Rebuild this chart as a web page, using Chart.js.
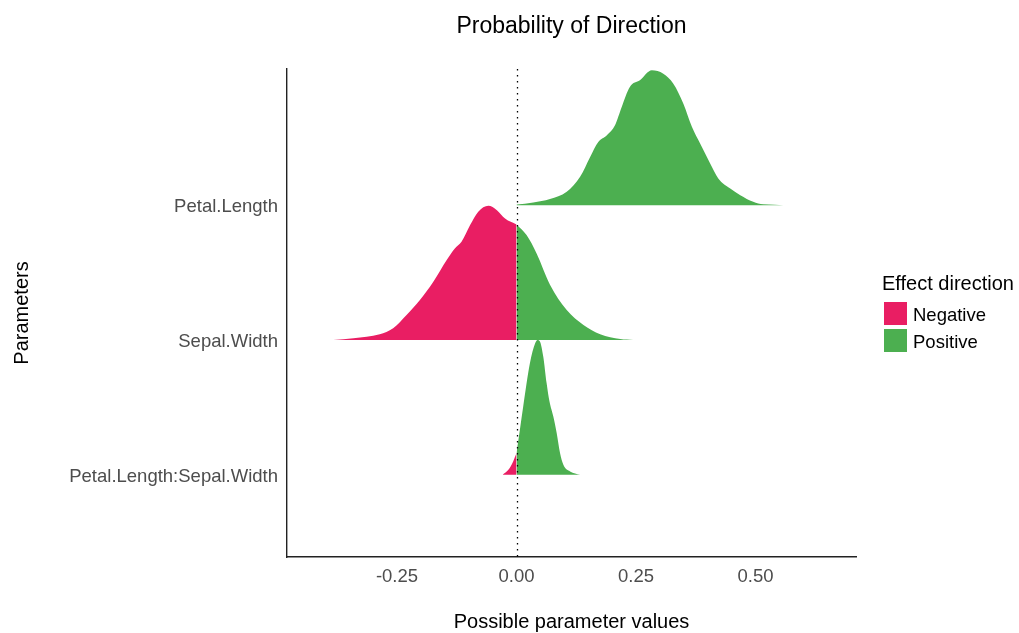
<!DOCTYPE html>
<html><head><meta charset="utf-8">
<script src="https://cdn.jsdelivr.net/npm/chart.js@4.4.0/dist/chart.umd.min.js"></script>
<style>html,body{margin:0;padding:0;background:#fff;} canvas{display:block;}</style>
</head><body>
<canvas id="c" width="1019" height="633"></canvas>
<script>
// ---- data ----
const parameters = ['Petal.Length', 'Sepal.Width', 'Petal.Length:Sepal.Width'];
const parameterRows = [3, 2, 1];
const xTicks = [-0.25, 0, 0.25, 0.5];
const directions = ['Negative', 'Positive'];
const directionColors = ['#E91E63', '#4CAF50'];

const petalLengthX = [0.000, 0.035, 0.070, 0.105, 0.133, 0.154, 0.171, 0.189, 0.206, 0.220, 0.237, 0.258, 0.283, 0.307, 0.328, 0.349, 0.367, 0.384, 0.405, 0.422, 0.447, 0.468, 0.495, 0.516, 0.540, 0.558];
const petalLengthDensity = [0.004, 0.020, 0.045, 0.099, 0.210, 0.358, 0.469, 0.519, 0.593, 0.728, 0.877, 0.926, 1.000, 0.975, 0.901, 0.753, 0.580, 0.457, 0.309, 0.198, 0.123, 0.074, 0.025, 0.006, 0.003, 0];

const sepalWidthX = [-0.383, -0.341, -0.286, -0.258, -0.230, -0.202, -0.174, -0.146, -0.129, -0.115, -0.097, -0.080, -0.059, -0.041, -0.024, 0.000, 0.021, 0.042, 0.070, 0.105, 0.140, 0.175, 0.217, 0.244];
const sepalWidthDensity = [0, 0.013, 0.042, 0.087, 0.185, 0.296, 0.432, 0.593, 0.679, 0.728, 0.852, 0.951, 0.995, 0.963, 0.901, 0.857, 0.778, 0.642, 0.410, 0.222, 0.111, 0.042, 0.007, 0];

const interactionX = [-0.029, -0.017, -0.007, 0.000, 0.007, 0.014, 0.028, 0.039, 0.044, 0.049, 0.056, 0.063, 0.069, 0.077, 0.084, 0.091, 0.098, 0.112, 0.133];
const interactionDensity = [0, 0.037, 0.099, 0.161, 0.333, 0.506, 0.827, 0.975, 1.000, 0.988, 0.876, 0.679, 0.543, 0.432, 0.309, 0.161, 0.074, 0.025, 0];

const seriesX = [petalLengthX, sepalWidthX, interactionX];
const seriesDensity = [petalLengthDensity, sepalWidthDensity, interactionDensity];

// ---- build datasets ----
const datasets = [];
parameters.forEach((name, i) => {
  const row = parameterRows[i];
  const xs = seriesX[i], ds = seriesDensity[i];
  const neg = [], pos = [];
  xs.forEach((x, k) => {
    const pt = {x: x, y: row + ds[k]};
    if (x <= 0) neg.push(pt);
    if (x >= 0) pos.push(pt);
  });
  [neg, pos].forEach((pts, d) => {
    if (pts.length < 2) return;
    datasets.push({
      label: name + ' ' + directions[d],
      data: pts,
      backgroundColor: directionColors[d],
      borderColor: directionColors[d],
      borderWidth: 0,
      pointRadius: 0,
      cubicInterpolationMode: 'monotone',
      fill: {value: row}
    });
  });
});

const FONT = '"Liberation Sans", Arial, sans-serif';

const extras = {
  id: 'extras',
  afterDatasetsDraw(chart) {
    const {ctx, chartArea, scales} = chart;
    const x0 = Math.round(scales.x.getPixelForValue(0)) + 0.5;
    ctx.save();
    ctx.strokeStyle = '#000';
    ctx.lineWidth = 1.3;
    ctx.setLineDash([1.5, 4.5]);
    ctx.beginPath();
    ctx.moveTo(x0, chartArea.top);
    ctx.lineTo(x0, chartArea.bottom);
    ctx.stroke();
    ctx.restore();
  },
  afterDraw(chart) {
    const {ctx} = chart;
    ctx.save();
    ctx.fillStyle = '#000';
    ctx.textBaseline = 'middle';
    ctx.textAlign = 'left';
    ctx.font = '20px ' + FONT;
    ctx.fillText('Effect direction', 882, 284);
    ctx.font = '18.5px ' + FONT;
    directions.forEach((d, i) => {
      const top = 302 + i * 27;
      ctx.fillStyle = directionColors[i];
      ctx.fillRect(884, top, 23, 23);
      ctx.fillStyle = '#000';
      ctx.fillText(d, 913, top + 14);
    });
    ctx.restore();
  }
};

new Chart(document.getElementById('c'), {
  type: 'line',
  data: {datasets: datasets},
  plugins: [extras],
  options: {
    responsive: false,
    animation: false,
    layout: {padding: {left: 0, right: 163, top: 0, bottom: 0}},
    plugins: {
      legend: {display: false},
      tooltip: {enabled: false},
      title: {
        display: true,
        text: 'Probability of Direction',
        fullSize: false,
        color: '#000',
        font: {family: FONT, size: 23, weight: 'normal', lineHeight: 1.2},
        padding: {top: 13, bottom: 28.4}
      }
    },
    scales: {
      x: {
        type: 'linear',
        min: -0.48,
        max: 0.71,
        afterFit(scale) { scale.height = 76; },
        afterBuildTicks(scale) { scale.ticks = xTicks.map(v => ({value: v})); },
        grid: {display: false, drawTicks: false},
        border: {display: true, color: '#222', width: 1.4},
        ticks: {
          color: '#4D4D4D',
          padding: 9,
          font: {family: FONT, size: 18.5, lineHeight: 1.2},
          callback: (v) => Number(v).toFixed(2),
          autoSkip: false,
          maxRotation: 0
        },
        title: {
          display: true,
          text: 'Possible parameter values',
          color: '#000',
          font: {family: FONT, size: 20, lineHeight: 1.1},
          padding: {top: 0, bottom: 0}
        }
      },
      y: {
        type: 'linear',
        min: 0.39,
        max: 4.01,
        afterFit(scale) { scale.width = 287; },
        afterBuildTicks(scale) { scale.ticks = parameterRows.map(v => ({value: v})); },
        grid: {display: false, drawTicks: false},
        border: {display: true, color: '#222', width: 1.4},
        ticks: {
          color: '#4D4D4D',
          padding: 9,
          labelOffset: 2,
          font: {family: FONT, size: 18.5, lineHeight: 1.2},
          autoSkip: false,
          callback: (v) => parameters[parameterRows.indexOf(v)]
        },
        title: {
          display: true,
          text: 'Parameters',
          color: '#000',
          font: {family: FONT, size: 20, lineHeight: 1.2},
          padding: {top: 10, bottom: 0}
        }
      }
    }
  }
});
</script>
</body></html>
